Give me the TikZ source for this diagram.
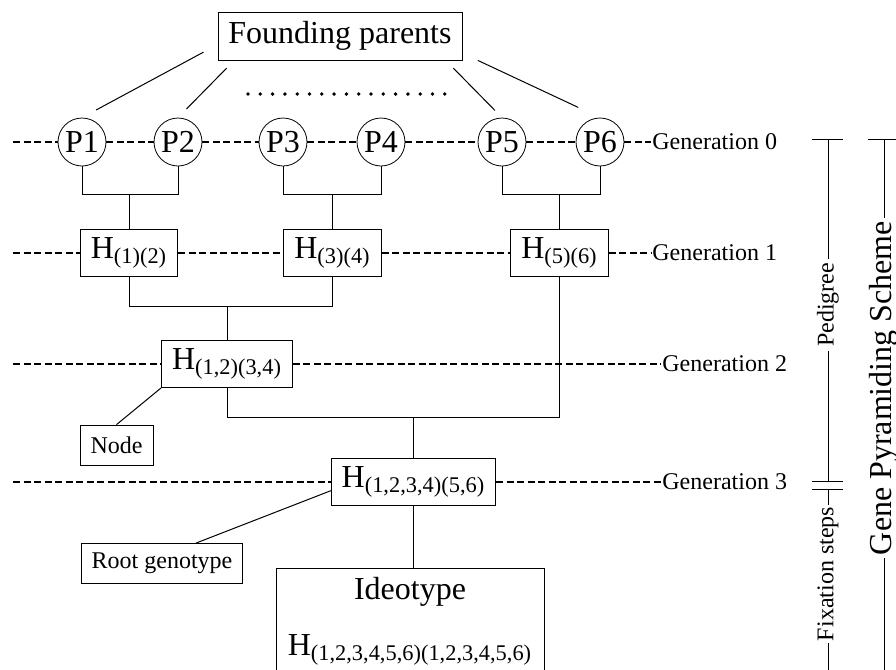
\documentclass[tikz,border=0pt]{standalone}
\usepackage{fontspec}
\setmainfont{Liberation Serif}
\begin{document}
\begin{tikzpicture}[x=0.5pt, y=-0.5pt,
    bigtxt/.style={font=\fontsize{16}{19}\selectfont},
    smalltxt/.style={font=\fontsize{12}{14}\selectfont},
    hbox/.style={draw, rectangle, inner xsep=5.25pt, inner ysep=0pt},
    parent/.style={draw, circle, bigtxt, minimum size=24pt, inner sep=0pt},
    hyb/.style={hbox, bigtxt, minimum height=23.5pt},
    genlbl/.style={smalltxt, anchor=west, inner sep=0.5pt},
    genline/.style={line width=1pt, dash pattern=on 3.5pt off 1.75pt},
    link/.style={line width=0.5pt},
    dotrow/.style={line width=1.9pt, line cap=round, dash pattern=on 0pt off 6.15pt}]

    \useasboundingbox (0,0) rectangle (896,670);
    \clip (0,0) rectangle (896,670);

    % Nodes
    \node (fp) [hbox, bigtxt, minimum height=24pt] at (340,36) {Founding parents};

    \node (P1) [parent] at (82,142) {P1};
    \node (P2) [parent] at (178,142) {P2};
    \node (P3) [parent] at (283,142) {P3};
    \node (P4) [parent] at (381,142) {P4};
    \node (P5) [parent] at (502,142) {P5};
    \node (P6) [parent] at (600,142) {P6};

    \node (H12) [hyb] at (129,252.5) {H\textsubscript{(1)(2)}};
    \node (H34) [hyb] at (332.5,252.5) {H\textsubscript{(3)(4)}};
    \node (H56) [hyb] at (559.5,252.5) {H\textsubscript{(5)(6)}};
    \node (H1234) [hyb] at (227,364) {H\textsubscript{(1,2)(3,4)}};
    \node (H123456) [hyb] at (413.5,482) {H\textsubscript{(1,2,3,4)(5,6)}};
    \node (ideo) [hbox, bigtxt, anchor=north, minimum width=134pt, align=center, inner ysep=4.5pt] at (410,568)
        {Ideotype\\[9pt]H\textsubscript{(1,2,3,4,5,6)(1,2,3,4,5,6)}\rule[-15pt]{0pt}{1pt}};

    \node (nd) [hbox, smalltxt, minimum height=20pt] at (116.5,445) {Node};
    \node (root) [hbox, smalltxt, minimum height=20pt] at (162,563.5) {Root genotype};

    \node (gen0) [genlbl] at (651,142) {Generation 0};
    \node (gen1) [genlbl] at (651,252.5) {Generation 1};
    \node (gen2) [genlbl] at (661,364) {Generation 2};
    \node (gen3) [genlbl] at (661,482) {Generation 3};

    \node (ped) [smalltxt, rotate=90, inner sep=2pt] at (828,305) {Pedigree};
    \node (fix) [smalltxt, rotate=90, inner sep=1pt] at (828,574) {Fixation steps};
    \node (gps) [bigtxt, rotate=90, inner sep=1.5pt] at (884,388) {Gene Pyramiding Scheme};

    \coordinate (g0) at (13,142);
    \coordinate (g1) at (13,252.5);
    \coordinate (g2) at (13,364);
    \coordinate (g3) at (13,482);
    \coordinate (b0) at (0,194);
    \coordinate (b1) at (0,306);
    \coordinate (b2) at (0,417);
    \coordinate (dl) at (248,94);
    \coordinate (dr) at (447,94);
    \coordinate (pedtop) at (828,139);
    \coordinate (pedbot) at (828,481);
    \coordinate (fixtop) at (828,489);
    \coordinate (fixbot) at (828,700);
    \coordinate (gtop) at (884,139);
    \coordinate (gbot) at (884,700);

    % Generations
    \draw[genline] (g0) -- (P1) -- (P2) -- (P3) -- (P4) -- (P5) -- (P6) -- (gen0);
    \draw[genline] (g1) -- (H12) -- (H34) -- (H56) -- (gen1);
    \draw[genline] (g2) -- (H1234) -- (gen2);
    \draw[genline] (g3) -- (H123456) -- (gen3);

    % Founding parents
    \draw[link, shorten <=8pt, shorten >=8pt] (fp.184) -- (P1.north);
    \draw[link, shorten <=5.5pt, shorten >=6pt] (fp.193) -- (P2.north);
    \draw[link, shorten <=5.5pt, shorten >=5pt] (fp.-13) -- (P5.north);
    \draw[link, shorten <=8.5pt, shorten >=12pt] (fp.-8) -- (P6.north);
    \draw[dotrow] (dl) -- (dr);

    % Crosses
    \draw[link] (P1.south) |- (P2 |- b0) -- (P2.south);
    \draw[link] (P3.south) |- (P4 |- b0) -- (P4.south);
    \draw[link] (P5.south) |- (P6 |- b0) -- (P6.south);
    \draw[link] (H12) -- (H12 |- b0);
    \draw[link] (H34) -- (H34 |- b0);
    \draw[link] (H56) -- (H56 |- b0);

    \draw[link] (H12.south) |- (H34 |- b1) -- (H34.south);
    \draw[link] (H1234) -- (H1234 |- b1);

    \draw[link] (H1234.south) |- (H56 |- b2) -- (H56.south);
    \draw[link] (H123456) -- (H123456 |- b2);
    \draw[link] (H123456.south) -- (H123456.south |- ideo.north);

    \draw[link] (nd.north) -- (H1234.south west);
    \draw[link] (root.31) -- (H123456.186);

    % Scale on the right
    \draw[link] (pedtop) -- (ped) -- (pedbot);
    \draw[link] (fixtop) -- (fix) -- (fixbot);
    \draw[link] (gtop) -- (gps) -- (gbot);
    \draw[link] ([xshift=-8pt]pedtop) -- ([xshift=7.5pt]pedtop);
    \draw[link] ([xshift=-8pt]pedbot) -- ([xshift=7.5pt]pedbot);
    \draw[link] ([xshift=-8pt]fixtop) -- ([xshift=7.5pt]fixtop);
    \draw[link] ([xshift=-8pt]gtop) -- ([xshift=8pt]gtop);

\end{tikzpicture}
\end{document}
